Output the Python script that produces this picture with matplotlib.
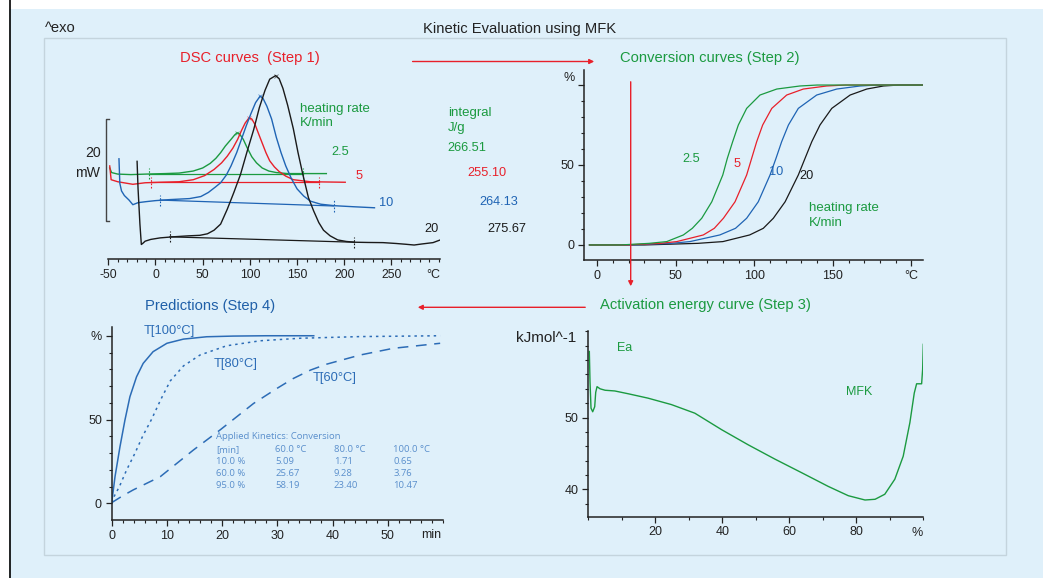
import matplotlib
matplotlib.use('Agg')
import matplotlib.pyplot as plt
from matplotlib.ticker import MultipleLocator
from matplotlib.patches import Rectangle, FancyArrowPatch
from matplotlib.lines import Line2D

plt.rcParams['font.family'] = ['Liberation Sans', 'DejaVu Sans']

# ================== data ==================
# DSC curves (Step 1): temperature [°C] vs heat flow [mW]
dsc_T_25 = [-48.5, -46.5, -40, -26, -10, 10, 25, 40, 50, 58, 64, 69, 74, 80, 84, 86.5, 89, 93, 97, 102, 107, 113, 120, 128, 140, 160, 181]
dsc_m_25 = [15.0, 14.1, 13.8, 13.7, 13.8, 13.9, 14.0, 14.4, 15.0, 15.9, 16.9, 18.0, 19.3, 20.6, 21.5, 21.9, 21.7, 20.6, 19.0, 17.2, 16.0, 15.0, 14.4, 14.1, 13.9, 13.9, 13.9]
dsc_T_5 = [-48.5, -47, -40, -24, -11, 5, 25, 40, 52, 62, 70, 76, 82, 87, 91, 95, 99, 102, 105.5, 109, 113, 117, 121, 126, 131, 138, 146, 164, 201]
dsc_m_5 = [15.4, 12.7, 12.3, 11.8, 12.1, 12.2, 12.3, 12.7, 13.5, 14.7, 16.0, 17.3, 18.9, 20.6, 22.3, 23.8, 24.8, 24.6, 23.5, 21.8, 19.9, 18.0, 16.4, 15.2, 14.3, 13.4, 12.7, 12.3, 12.2]
dsc_T_10 = [-38.7, -37.8, -36, -33, -28, -24, -18.5, -10, 0, 15, 36, 48, 56, 63, 69, 75, 80, 86, 91, 96, 101, 106, 110.9, 114, 118, 123, 128, 133, 138, 144, 150, 157, 164, 175, 190, 210, 232]
dsc_m_10 = [16.8, 12.0, 10.5, 9.6, 8.7, 7.8, 8.2, 8.4, 8.6, 8.8, 9.0, 9.4, 10.2, 11.2, 12.1, 13.6, 15.4, 18.0, 20.6, 23.2, 25.6, 27.8, 29.1, 28.6, 27.1, 24.6, 21.0, 18.0, 15.4, 12.9, 10.9, 9.5, 8.5, 7.9, 7.6, 7.4, 7.2]
dsc_T_20 = [-19.5, -18.5, -16.5, -15, -13, -11, -5, 5, 18, 35, 47, 55, 62, 69, 76, 83, 90, 97, 104, 110, 116, 121, 127.3, 131, 135, 140, 146, 151, 156, 162, 167.5, 173, 178, 185, 193, 202, 211, 225, 241, 255, 265, 274, 282, 294, 301]
dsc_m_20 = [16.3, 11.0, 4.0, 0.0, 0.3, 0.65, 1.0, 1.3, 1.5, 1.7, 1.8, 2.1, 2.8, 4.0, 6.9, 10.2, 13.7, 18.2, 22.5, 26.8, 30.2, 32.4, 33.1, 32.5, 30.6, 27.3, 22.7, 18.0, 13.8, 9.2, 6.6, 4.3, 2.8, 1.7, 0.9, 0.6, 0.45, 0.4, 0.37, 0.2, 0.05, -0.1, 0.1, 0.37, 0.85]
# integration limits (T1, m1, T2, m2)
lim_25 = [-6.9, 13.9, 156.5, 13.9]
lim_5 = [-5.1, 12.2, 172.9, 12.2]
lim_10 = [5.1, 8.7, 188.6, 7.55]
lim_20 = [15.3, 1.5, 210.5, 0.45]
rates = ['2.5', '5', '10', '20']
integrals = ['266.51', '255.10', '264.13', '275.67']

# Conversion curves (Step 2): temperature at each conversion level
conv_pct = [0, 0, 1, 2.1, 6.25, 10.4, 16.7, 27, 43.75, 54.2, 64.6, 75, 85.4, 93.75, 97.5, 99.4, 100, 100]
conv_T_25 = [-5, 15, 33, 44.2, 54.8, 60.5, 66.5, 72.9, 79.9, 82.8, 86.2, 89.8, 95.1, 103.6, 114.3, 129, 140, 207]
conv_T_5 = [-5, 18, 40, 50.6, 67.5, 74.5, 80.3, 87.7, 95.1, 98.3, 101.5, 105.3, 111.1, 120.6, 131.2, 146, 158, 207]
conv_T_10 = [-5, 22, 47, 59, 78, 88, 95.1, 102.5, 110, 113.8, 117.4, 121.7, 128, 139.7, 152.5, 167.3, 178, 207]
conv_T_20 = [-5, 30, 64, 80, 97, 105.7, 112.1, 119.6, 128, 132.3, 136.6, 141.8, 149.3, 161, 171.6, 182.2, 192, 207]

# Activation energy (Step 3)
ea_x = [0.3, 0.5, 0.8, 1.3, 1.9, 2.2, 2.6, 3.5, 5, 7.9, 12, 17.8, 24.8, 31.8, 39.8, 47.7, 55.7, 63.7, 71.6, 77.6, 82.6, 85.6, 88.5, 91.5, 94.0, 96.0, 97.3, 98.0, 99.5, 99.8, 100]
ea_y = [59.2, 55.0, 51.3, 50.8, 51.5, 53.5, 54.3, 54.0, 53.8, 53.7, 53.3, 52.7, 51.8, 50.6, 48.3, 46.2, 44.2, 42.3, 40.4, 39.1, 38.5, 38.6, 39.3, 41.4, 44.6, 49.3, 53.4, 54.7, 54.7, 56.7, 60.2]

# Predictions (Step 4): time [min] vs conversion [%]
t_100 = [0, 0.6, 1.5, 2.4, 3.3, 4.5, 5.7, 7.5, 10, 13, 17.2, 22, 28, 36.6]
c_100 = [0.4, 15.9, 33.8, 49.7, 63.6, 75.5, 83.5, 90.5, 95.5, 98, 99.4, 99.8, 100, 100]
t_80 = [0, 0.5, 1.4, 2.7, 4.2, 5.6, 7.2, 8.9, 10.6, 13, 16, 20.8, 26.9, 34.1, 45, 59.5]
c_80 = [0.4, 4.5, 10, 19.9, 29.8, 40, 50, 62, 73, 82, 88.5, 94, 97, 98.5, 99.5, 100]
t_60 = [0, 2, 3.9, 8.8, 14.8, 19.6, 25.7, 29.9, 32.9, 36, 38.9, 45, 51, 59.5]
c_60 = [0.4, 4.5, 8, 15.9, 31.8, 43.7, 59.6, 68.5, 74.5, 79.5, 83, 88.5, 92.5, 95.5]

table_rows = [['[min]', '60.0 °C', '80.0 °C', '100.0 °C'],
              ['10.0 %', '5.09', '1.71', '0.65'],
              ['60.0 %', '25.67', '9.28', '3.76'],
              ['95.0 %', '58.19', '23.40', '10.47']]

# ================== style ==================
W, H = 1043, 578
BG = '#dff0fa'
GREEN = '#1b9a40'
RED = '#e8202a'
BLUE = '#1f64b4'
BLACK = '#1a1a1a'
PBLUE = '#2c6cb6'
TBLUE = '#5a8fcc'
TXT = '#222222'
TITLE_FS = 10.6
LAB_FS = 9.5

fig = plt.figure(figsize=(W / 100, H / 100), dpi=100)
fig.patch.set_facecolor(BG)


def px_axes(l, t, r, b):
    a = fig.add_axes([l / W, 1 - b / H, (r - l) / W, (b - t) / H])
    a.patch.set_alpha(0)
    return a


def ftext(x, y, s, **kw):
    kw.setdefault('va', 'center')
    fig.text(x / W, 1 - y / H, s, **kw)


def style_axes(a, left=True, fs=9):
    for s in ['top', 'right']:
        a.spines[s].set_visible(False)
    if not left:
        a.spines['left'].set_visible(False)
        a.set_yticks([])
    for s in ['left', 'bottom']:
        a.spines[s].set_linewidth(1.1)
        a.spines[s].set_color(TXT)
    a.tick_params(which='major', direction='out', length=4, width=0.9,
                  labelsize=fs, colors=TXT, pad=3)
    a.tick_params(which='minor', direction='out', length=2.5, width=0.8, colors=TXT)


# frame decorations
fig.add_artist(Rectangle((0, 1 - 8.5 / H), 1, 8.5 / H, transform=fig.transFigure,
                         facecolor='white', edgecolor='none', zorder=0))
fig.add_artist(Rectangle((0, 0), 9.3 / W, 1, transform=fig.transFigure,
                         facecolor='white', edgecolor='none', zorder=0))
fig.add_artist(Line2D([9.5 / W, 9.5 / W], [0, 1], transform=fig.transFigure,
                      color='black', lw=1.2))
fig.add_artist(Rectangle((43.7 / W, 1 - 555 / H), (1006 - 43.7) / W, (555 - 38.3) / H,
                         transform=fig.transFigure, facecolor='none',
                         edgecolor='#c4d4dd', lw=1, zorder=0))

ftext(44.5, 28.5, '^exo', fontsize=10.6, color=TXT)
ftext(520, 28.5, 'Kinetic Evaluation using MFK', fontsize=10.6, color=TXT, ha='center')

# ================== Step 1: DSC curves ==================
ax1 = px_axes(108.3, 70, 440, 259)
ax1.set_xlim(-50, 301.4)
ax1.set_ylim(-2.84, 34.2)
style_axes(ax1, left=False, fs=8.8)
ax1.xaxis.set_minor_locator(MultipleLocator(10))
ax1.set_xticks([-50, 0, 50, 100, 150, 200, 250])
ax1.set_xticklabels(['-50', '0', '50', '100', '150', '200', '250'])

dsc = [(dsc_T_25, dsc_m_25, lim_25, GREEN),
       (dsc_T_5, dsc_m_5, lim_5, RED),
       (dsc_T_10, dsc_m_10, lim_10, BLUE),
       (dsc_T_20, dsc_m_20, lim_20, BLACK)]
for T, m, lim, c in dsc:
    ax1.plot(T, m, color=c, lw=1.0)
    ax1.plot([lim[0], lim[2]], [lim[1], lim[3]], color=c, lw=0.9)
    for xx, yy in [(lim[0], lim[1]), (lim[2], lim[3])]:
        ax1.plot([xx, xx], [yy - 1.1, yy + 1.1], color=c, lw=0.8, ls=(0, (1.5, 1.5)))
    k = m.index(max(m))
    ax1.plot(T[k], m[k], marker='x', ms=2.5, mew=0.6, color=c, alpha=0.6)

# 20 mW scale bar
ax1.plot([-49.5, -52.5, -52.5, -49.5], [24.6, 24.6, 4.6, 4.6], color='#444444',
         lw=1.0, clip_on=False)
ftext(100.5, 153, '20', fontsize=10.2, color=TXT, ha='right')
ftext(100.5, 172.5, 'mW', fontsize=10.2, color=TXT, ha='right')
ftext(433, 274.5, '°C', fontsize=9, color=TXT, ha='center')

ftext(249.7, 58.3, 'DSC curves  (Step 1)', fontsize=TITLE_FS, color=RED, ha='center')
ftext(300.3, 109, 'heating rate', fontsize=LAB_FS, color=GREEN)
ftext(300.3, 123.5, 'K/min', fontsize=LAB_FS, color=GREEN)
ftext(447.7, 112.7, 'integral', fontsize=LAB_FS, color=GREEN)
ftext(447.7, 127.5, 'J/g', fontsize=LAB_FS, color=GREEN)
rate_pos = [(331.6, 152.3), (355.7, 176), (378.8, 203.3), (424.2, 229.3)]
int_pos = [(447.7, 148.3), (467.6, 172.7), (479.7, 201.7), (487.6, 228.7)]
for i, c in enumerate([GREEN, RED, BLUE, BLACK]):
    ftext(rate_pos[i][0], rate_pos[i][1], rates[i], fontsize=9.2, color=c)
    ftext(int_pos[i][0], int_pos[i][1], integrals[i], fontsize=9.2, color=c)

# ================== Step 2: conversion curves ==================
ax2 = px_axes(584.3, 70, 923.3, 260.3)
ax2.set_xlim(-8.3, 207.6)
ax2.set_ylim(-9.6, 109.4)
style_axes(ax2)
ax2.set_xticks([0, 50, 100, 150, 200])
ax2.set_xticklabels(['0', '50', '100', '150', '°C'])
ax2.xaxis.set_minor_locator(MultipleLocator(10))
ax2.set_yticks([0, 50, 100])
ax2.set_yticklabels(['0', '50', ''])
ax2.yaxis.set_minor_locator(MultipleLocator(10))
for T, c in [(conv_T_20, BLACK), (conv_T_10, BLUE), (conv_T_5, RED), (conv_T_25, GREEN)]:
    ax2.plot(T, conv_pct, color=c, lw=0.9)
ftext(569.3, 78, '%', fontsize=9, color=TXT, ha='center')
ftext(710, 58.3, 'Conversion curves (Step 2)', fontsize=TITLE_FS, color=GREEN, ha='center')
conv_lab = [(682.7, 158.7), (733.3, 164.3), (768.7, 172.3), (799, 176)]
for i, c in enumerate([GREEN, RED, BLUE, BLACK]):
    ftext(conv_lab[i][0], conv_lab[i][1], rates[i], fontsize=9.2, color=c)
ftext(808.7, 208.3, 'heating rate', fontsize=LAB_FS, color=GREEN)
ftext(808.7, 222.7, 'K/min', fontsize=LAB_FS, color=GREEN)

# ================== Step 4: predictions ==================
ax4 = px_axes(111.7, 326.7, 443.3, 520)
ax4.set_xlim(0, 60.07)
ax4.set_ylim(-9.96, 105.4)
style_axes(ax4)
ax4.set_xticks([0, 10, 20, 30, 40, 50])
ax4.xaxis.set_minor_locator(MultipleLocator(2))
ax4.set_yticks([0, 50, 100])
ax4.set_yticklabels(['0', '50', '%'])
ax4.yaxis.set_minor_locator(MultipleLocator(10))
ax4.plot(t_100, c_100, color=PBLUE, lw=1.1)
ax4.plot(t_80, c_80, color=PBLUE, lw=1.1, ls=(0, (1.6, 2.6)))
ax4.plot(t_60, c_60, color=PBLUE, lw=1.1, ls=(0, (7, 5)))
ftext(431, 535, 'min', fontsize=9, color=TXT, ha='center')
ftext(210, 306, 'Predictions (Step 4)', fontsize=TITLE_FS, color='#1f5fa8', ha='center')
ftext(143.3, 330.7, 'T[100°C]', fontsize=9.3, color=PBLUE)
ftext(213.3, 364, 'T[80°C]', fontsize=9.3, color=PBLUE)
ftext(312.3, 378.3, 'T[60°C]', fontsize=9.3, color=PBLUE)

ftext(216, 436.7, 'Applied Kinetics: Conversion', fontsize=6.8, color=TBLUE,
      family=['Open Sans', 'DejaVu Sans'])
col_x = [216, 275, 334, 393.3]
row_y = [449.3, 461.7, 473.3, 485]
for r, row in enumerate(table_rows):
    for cidx, s in enumerate(row):
        ftext(col_x[cidx], row_y[r], s, fontsize=6.8, color=TBLUE,
              family=['Open Sans', 'DejaVu Sans'])

# ================== Step 3: activation energy ==================
ax3 = px_axes(588, 330.7, 923.3, 516.5)
ax3.set_xlim(-0.1, 100)
ax3.set_ylim(36.2, 62.1)
style_axes(ax3)
ax3.set_xticks([20, 40, 60, 80])
ax3.xaxis.set_minor_locator(MultipleLocator(10))
ax3.set_yticks([40, 50])
ax3.yaxis.set_minor_locator(MultipleLocator(2))
ax3.plot(ea_x, ea_y, color=GREEN, lw=1.0)
ftext(917.3, 533, '%', fontsize=9, color=TXT, ha='center')
ftext(516, 338.3, 'kJmol^-1', fontsize=11, color=TXT)
ftext(616.7, 348.3, 'Ea', fontsize=9, color=GREEN)
ftext(845.7, 391.7, 'MFK', fontsize=9, color=GREEN)
ftext(705, 305, 'Activation energy curve (Step 3)', fontsize=TITLE_FS, color=GREEN, ha='center')

# ================== arrows ==================
for a, b in [((409.8, 61.5), (597, 61.5)),
             ((630.7, 79), (630.7, 289)),
             ((588, 307.3), (415, 307.3))]:
    fig.add_artist(FancyArrowPatch((a[0] / W, 1 - a[1] / H), (b[0] / W, 1 - b[1] / H),
                                   transform=fig.transFigure, arrowstyle='-|>',
                                   mutation_scale=7, color=RED, lw=1.0, zorder=5))

fig.savefig('out.png', dpi=100, facecolor=BG)
